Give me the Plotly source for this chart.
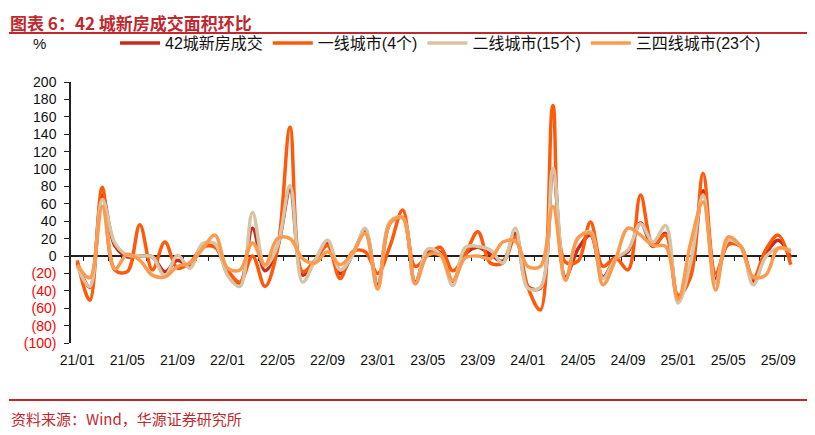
import plotly.graph_objects as go

months = [
    "21/01", "21/02", "21/03", "21/04", "21/05", "21/06", "21/07", "21/08", "21/09", "21/10", "21/11", "21/12",
    "22/01", "22/02", "22/03", "22/04", "22/05", "22/06", "22/07", "22/08", "22/09", "22/10", "22/11", "22/12",
    "23/01", "23/02", "23/03", "23/04", "23/05", "23/06", "23/07", "23/08", "23/09", "23/10", "23/11", "23/12",
    "24/01", "24/02", "24/03", "24/04", "24/05", "24/06", "24/07", "24/08", "24/09", "24/10", "24/11", "24/12",
    "25/01", "25/02", "25/03", "25/04", "25/05", "25/06", "25/07", "25/08", "25/09", "25/10",
]

city42 = [-8, -36, 70, 12, -1, 0, -1, -18, -5, -12, 12, 12,
          -18, -31, 32, -17, 10, 76, -22, -5, 15, -20, 2, 28,
          -33, 38, 44, -30, 5, 4, -29, 2, 10, 2, -6, 26,
          -35, -37, 99, -24, 8, 24, -24, -3, 5, 38, 11, 26,
          -49, -16, 75, -26, 15, 11, -29, 2, 18, -2]
tier1 = [-5, -51, 79, -16, -18, 36, -16, 16, -14, -8, 10, 10,
         -16, -30, 0, -35, 8, 148, -18, -5, 12, -26, 5, 5,
         -20, 12, 53, -12, 1, 10, -17, 2, 28, -8, -8, 22,
         -36, -62, 173, -7, -6, 39, -12, -2, -16, 70, 13, 24,
         -45, -24, 95, -20, 13, 11, -26, 7, 24, -10]
tier2 = [-12, -35, 65, 15, 1, 0, -1, -23, 1, -14, 14, 14,
         -22, -35, 50, -12, 12, 81, -30, -5, 18, -16, 1, 32,
         -37, 40, 44, -32, 8, 2, -34, 10, 11, 7, -8, 32,
         -37, -36, 101, -27, 20, 28, -26, -3, 7, 37, 16, 35,
         -54, -8, 70, -31, 18, 11, -33, -1, 9, 7]
tier34 = [-10, -25, 57, -15, 2, -5, -22, -24, -12, -8, 8, 24,
          -14, -16, 15, -10, 20, 20, -3, -8, 5, -10, 4, 26,
          -38, 38, 44, -32, 1, 1, -28, -2, 0, -3, 16, 17,
          -12, -12, 57, -28, 21, 26, -33, -4, 32, 24, 12, 11,
          -50, 15, 62, -39, 22, 11, -24, -22, 9, 5]

series_names = ["42城新房成交", "一线城市(4个)", "二线城市(15个)", "三四线城市(23个)"]
series_colors = ["#C62D1F", "#FF5A0A", "#D8C3A3", "#FA9B50"]

x_tick_labels = ["21/01", "21/05", "21/09", "22/01", "22/05", "22/09", "23/01", "23/05",
                 "23/09", "24/01", "24/05", "24/09", "25/01", "25/05", "25/09"]
y_tick_values = [-100, -80, -60, -40, -20, 0, 20, 40, 60, 80, 100, 120, 140, 160, 180, 200]
y_tick_labels = ['<span style="color:#FF0000">(100)</span>', '<span style="color:#FF0000">(80)</span>',
                 '<span style="color:#FF0000">(60)</span>', '<span style="color:#FF0000">(40)</span>',
                 '<span style="color:#FF0000">(20)</span>', "0", "20", "40", "60", "80", "100",
                 "120", "140", "160", "180", "200"]

# The page body has an 8px margin; the figure is sized so it fills the window.
OFF = 8
W, H = 815 - OFF, 435 - OFF
# plot area in window pixels: x 71..797, y 82..343
L, R, T, B = 71 - OFF, 815 - 797, 82 - OFF, 435 - 343
pw, ph = 797 - 71, 343 - 82


def px(x):
    return (x - 71) / pw


def py(y):
    return (343 - y) / ph


fig = go.Figure()
for name, vals, col in zip(series_names, [city42, tier1, tier2, tier34], series_colors):
    fig.add_trace(go.Scatter(
        x=months, y=vals, name=name, mode="lines",
        line=dict(color=col, width=3.5, shape="spline", smoothing=1.0),
    ))

n = len(months)
red = "#C0282D"
fig.update_layout(
    width=W, height=H,
    margin=dict(l=L, r=R, t=T, b=B, autoexpand=False),
    paper_bgcolor="white", plot_bgcolor="white",
    font=dict(family="Liberation Sans, Arial, Noto Sans CJK SC", size=14, color="#111111"),
    xaxis=dict(
        type="category", range=[-0.5, n - 0.5],
        tickmode="array", tickvals=x_tick_labels, ticktext=x_tick_labels,
        showline=False, showgrid=False, zeroline=False,
        ticks="outside", ticklen=4, tickcolor="rgba(0,0,0,0)",
        tickfont=dict(size=14, color="#111111"),
    ),
    xaxis2=dict(
        overlaying="x", anchor="free", position=1 / 3, range=[-0.5, n - 0.5],
        tickmode="array", tickvals=[i + 0.5 for i in range(n - 1)],
        showticklabels=False, showline=True, linecolor="#222222", linewidth=1.5,
        ticks="outside", ticklen=4, tickwidth=1.2, tickcolor="#222222",
        showgrid=False, zeroline=False, layer="below traces",
    ),
    yaxis=dict(
        range=[-100, 200], tickmode="array", tickvals=y_tick_values, ticktext=y_tick_labels,
        showline=True, linecolor="#222222", linewidth=1.5,
        ticks="outside", ticklen=5, tickwidth=1.2, tickcolor="#222222",
        ticklabelstandoff=5,
        showgrid=False, zeroline=False,
        tickfont=dict(size=14, color="#111111"),
    ),
    legend=dict(
        orientation="h", x=px(115), xanchor="left", y=py(43), yanchor="middle",
        font=dict(family="Liberation Sans, Noto Sans CJK SC", size=16, color="#111111"),
        bgcolor="rgba(0,0,0,0)", itemwidth=40, tracegroupgap=0,
    ),
    showlegend=True,
)
fig.add_trace(go.Scatter(x=[], y=[], xaxis="x2", showlegend=False, hoverinfo="skip"))

fig.add_annotation(
    text="<b>图表 6：42 城新房成交面积环比</b>", xref="paper", yref="paper",
    x=px(9), y=py(9), xanchor="left", yanchor="top", showarrow=False, borderpad=0,
    font=dict(family="Noto Sans CJK SC", size=17, color=red),
)
fig.add_annotation(
    text="%", xref="paper", yref="paper", x=px(39), y=py(43),
    xanchor="center", yanchor="middle", showarrow=False,
    font=dict(family="Liberation Sans", size=15, color="#111111"),
)
fig.add_annotation(
    text="资料来源：Wind，华源证券研究所", xref="paper", yref="paper",
    x=px(9), y=py(418), xanchor="left", yanchor="middle", showarrow=False,
    font=dict(family="Noto Sans CJK SC", size=15, color=red),
)
fig.add_shape(type="line", xref="paper", yref="paper", x0=px(9), x1=px(809), y0=py(33), y1=py(33),
              line=dict(color=red, width=1.8))
fig.add_shape(type="line", xref="paper", yref="paper", x0=px(9), x1=px(809), y0=py(400), y1=py(400),
              line=dict(color=red, width=1.8))

fig.write_html("out.html")
